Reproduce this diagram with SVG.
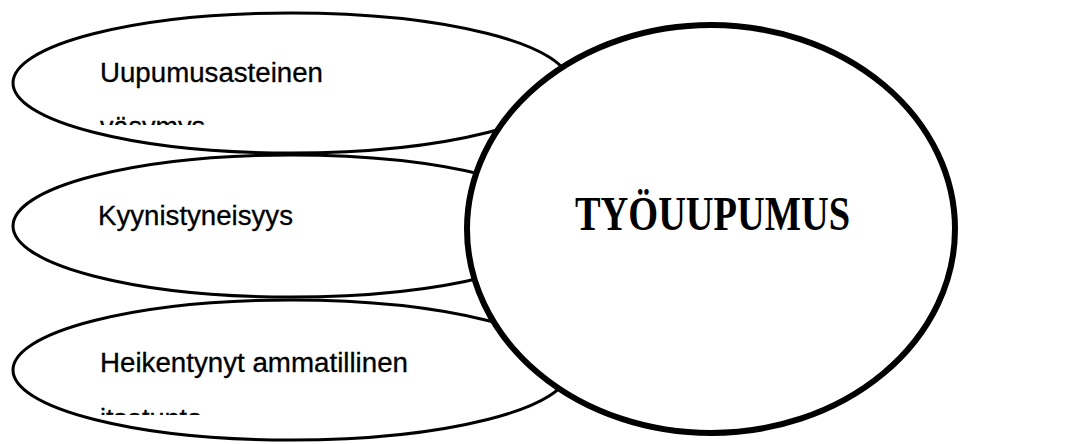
<svg xmlns="http://www.w3.org/2000/svg" width="1080" height="444" viewBox="0 0 1080 444">
  <style>
    .leaf { fill: #ffffff; stroke: #000000; stroke-width: 3; }
    .core { fill: #ffffff; stroke: #000000; stroke-width: 6; }
    .lbl { font-family: "Liberation Sans", Arial, sans-serif; font-size: 27px; fill: #000000; stroke: #000000; stroke-width: 0.3; }
    .title { font-family: "Liberation Serif", "Times New Roman", serif; font-size: 48px; font-weight: bold; fill: #000000; }
  </style>
  <defs>
    <!-- text frames cut off the second line of each label -->
    <clipPath id="clip-top"><rect x="60" y="40" width="420" height="85"/></clipPath>
    <clipPath id="clip-bottom"><rect x="60" y="330" width="420" height="85"/></clipPath>
  </defs>

  <g id="connectors"></g>

  <g id="node-exhaustion">
    <ellipse class="leaf" cx="291" cy="83" rx="278" ry="70"/>
    <g clip-path="url(#clip-top)">
      <text class="lbl" x="100" y="82" textLength="223" lengthAdjust="spacingAndGlyphs">Uupumusasteinen</text>
      <text class="lbl" x="100" y="136">väsymys</text>
    </g>
  </g>

  <g id="node-cynicism">
    <ellipse class="leaf" cx="291" cy="226" rx="278" ry="71"/>
    <text class="lbl" x="98" y="225" textLength="195" lengthAdjust="spacingAndGlyphs">Kyynistyneisyys</text>
  </g>

  <g id="node-efficacy">
    <ellipse class="leaf" cx="291" cy="370" rx="278" ry="70"/>
    <g clip-path="url(#clip-bottom)">
      <text class="lbl" x="100" y="372" textLength="308" lengthAdjust="spacingAndGlyphs">Heikentynyt ammatillinen</text>
      <text class="lbl" x="100" y="428">itsetunto</text>
    </g>
  </g>

  <g id="node-burnout">
    <ellipse class="core" cx="711" cy="229" rx="244" ry="204"/>
    <text class="title" x="575" y="230" textLength="275" lengthAdjust="spacingAndGlyphs">TYÖUUPUMUS</text>
  </g>
</svg>
